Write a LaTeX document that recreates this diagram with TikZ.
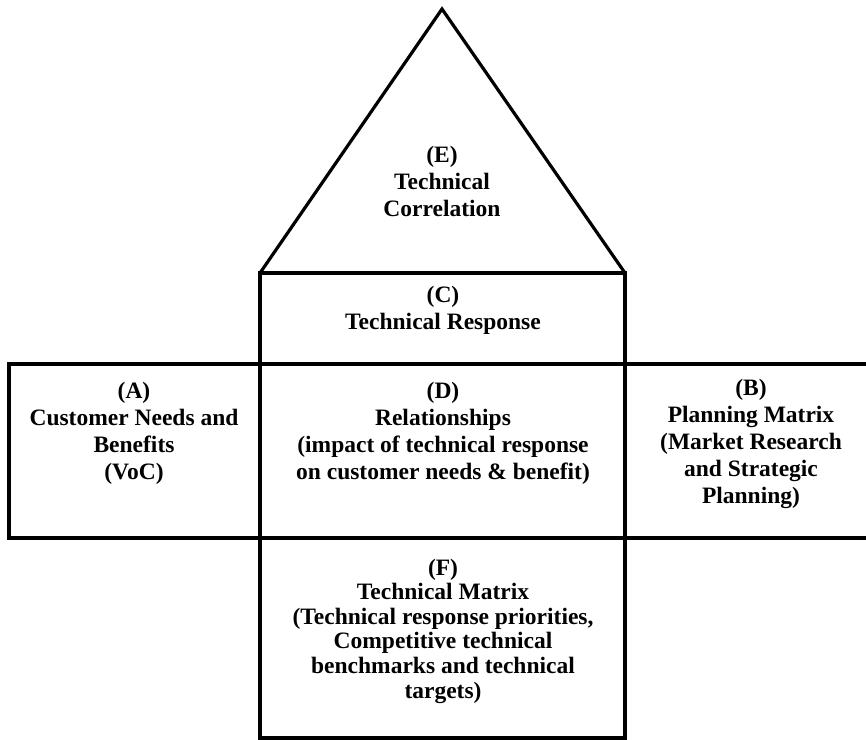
\documentclass[tikz,border=0pt]{standalone}
\usepackage{fontspec}
\setmainfont{Liberation Serif}
\begin{document}
\begin{tikzpicture}[x=1pt,y=-1pt,
  frame/.style={line width=3.2pt, line join=miter},
  lbl/.style={align=center, inner sep=0pt, font=\bfseries\fontsize{23.5}{27}\selectfont},
  lblF/.style={lbl, font=\bfseries\fontsize{23.5}{24.6}\selectfont}]
\useasboundingbox (0,0) rectangle (866,739);
\fill[white] (0,0) rectangle (866,739);
% corner coordinates
\coordinate (apex) at (442,9);
\coordinate (tl) at (260,273);
\coordinate (tr) at (625,273);
\coordinate (bl) at (260,738);
\coordinate (br) at (625,738);
\coordinate (rowTL) at (9,364);
\coordinate (rowBL) at (9,538);
\coordinate (rowTR) at (866,364);
\coordinate (rowBR) at (866,538);
% roof
\draw[frame] (tl) -- (apex) -- (tr);
% central column
\draw[frame] (tl) -- (tr) -- (br) -- (bl) -- cycle;
% middle row
\draw[frame] (rowTR) -- (rowTL) -- (rowBL) -- (rowBR);
% labels
\node[lbl] (E) at (442,181) {(E)\\Technical\\Correlation};
\node[lbl] (C) at (443,310) {(C)\\Technical Response};
\node[lbl] (A) at (134,433) {(A)\\Customer Needs and\\Benefits\\(VoC)};
\node[lbl] (D) at (443,433) {(D)\\Relationships\\(impact of technical response\\on customer needs \& benefit)};
\node[lbl] (B) at (751,444) {(B)\\Planning Matrix\\(Market Research\\and Strategic\\Planning)};
\node[lblF] (F) at (443,631) {(F)\\Technical Matrix\\(Technical response priorities,\\Competitive technical\\benchmarks and technical\\targets)};
\end{tikzpicture}
\end{document}
